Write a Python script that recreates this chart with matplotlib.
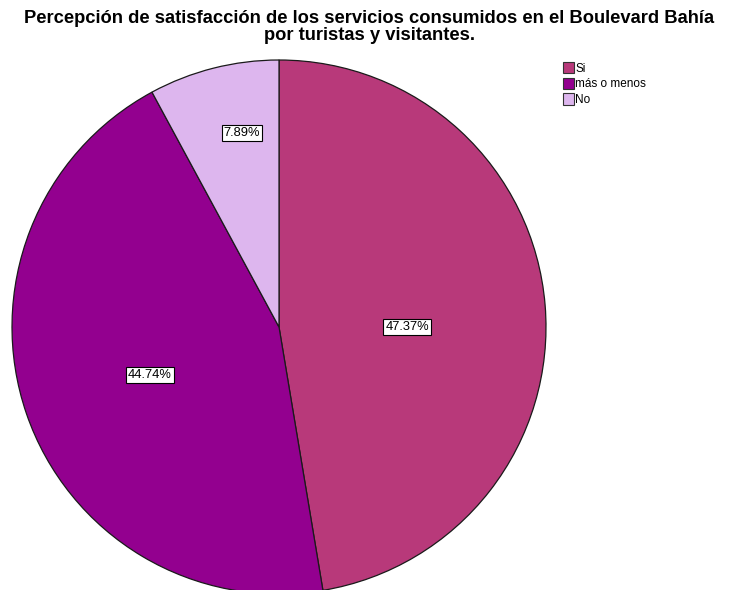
import matplotlib
matplotlib.use("Agg")
import matplotlib.pyplot as plt
from matplotlib.patches import Patch

categories = ["Si", "más o menos", "No"]
values = [47.37, 44.74, 7.89]
colors = ["#B8397A", "#93008F", "#DDB6EE"]
title = "Percepción de satisfacción de los servicios consumidos en el Boulevard Bahía\npor turistas y visitantes."

plt.rcParams['font.family'] = ['Liberation Sans', 'DejaVu Sans']

W, H = 734, 590
fig = plt.figure(figsize=(W / 100, H / 100), dpi=100)
ax = fig.add_axes([0, 0, 1, 1])

cx, cy, r = 279, H - 327, 267
wedges, texts, autotexts = ax.pie(
    values, colors=colors, startangle=90, counterclock=False,
    center=(cx, cy), radius=r, autopct=lambda p: f"{p:.2f}%",
    pctdistance=0.48,
    wedgeprops=dict(edgecolor="#1a1a1a", linewidth=0.9),
    textprops=dict(fontsize=9.3, color="black"),
)
label_pos = [(407, 327), (150, 375), (242, 133)]
for t, (px, py) in zip(autotexts, label_pos):
    t.set_position((px, H - py))
    t.set_bbox(dict(facecolor="white", edgecolor="black", boxstyle="square,pad=0.15", linewidth=0.8))
    t.set_ha("center"); t.set_va("center")

ax.set_xlim(0, W)
ax.set_ylim(0, H)
ax.set_aspect("equal")
ax.axis("off")

fig.text(369 / W, 1 - 27 / H, title, ha="center", va="center", fontsize=13.2,
         fontweight="bold", linespacing=0.95)

handles = [Patch(facecolor=c, edgecolor="#333333", linewidth=0.8) for c in colors]
fig.legend(handles, categories, loc="upper left", bbox_to_anchor=(563 / W, 1 - 62 / H),
           frameon=False, fontsize=8.5, handlelength=0.9, handleheight=1.1,
           handletextpad=0.15, labelspacing=0.25, borderaxespad=0, borderpad=0)

fig.savefig("out.png", dpi=100, facecolor="white")
